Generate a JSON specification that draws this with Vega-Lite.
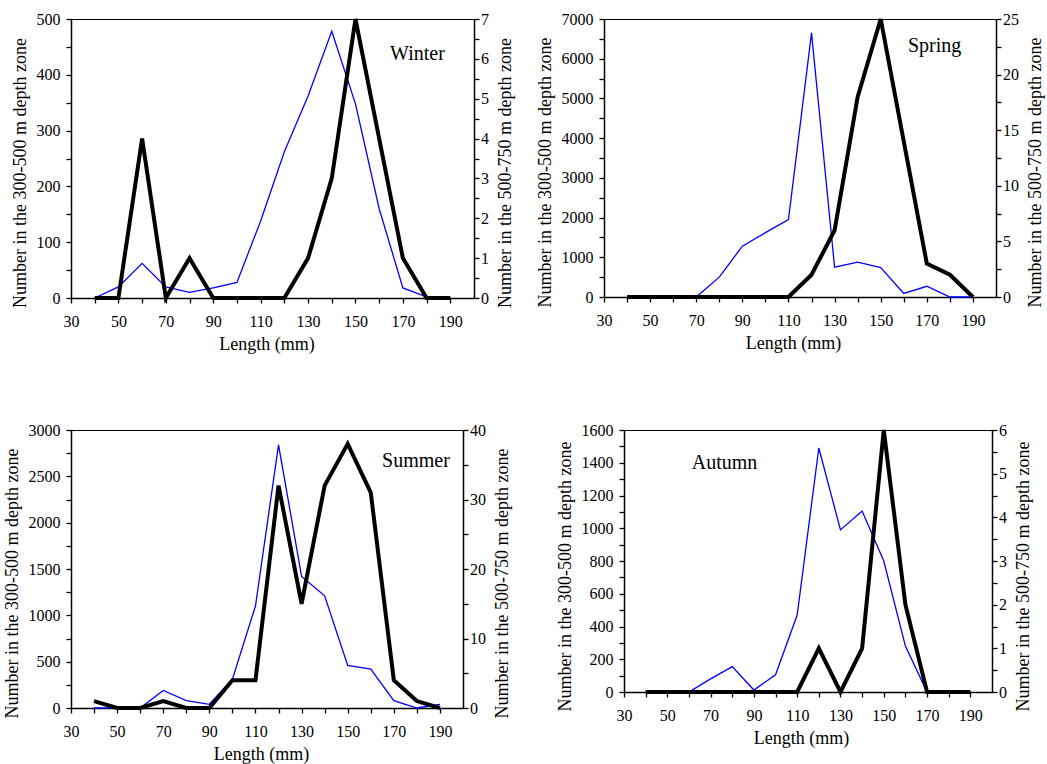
{
  "$schema": "https://vega.github.io/schema/vega-lite/v6.json",
  "background": "white",
  "padding": {"left": 2, "top": 10, "right": 5, "bottom": 5},
  "datasets": {
    "fish": [
      {"season": "Winter", "length": 40, "shallow": 0, "deep": 0},
      {"season": "Winter", "length": 50, "shallow": 20, "deep": 0},
      {"season": "Winter", "length": 60, "shallow": 62, "deep": 4},
      {"season": "Winter", "length": 70, "shallow": 20, "deep": 0},
      {"season": "Winter", "length": 80, "shallow": 10, "deep": 1},
      {"season": "Winter", "length": 90, "shallow": 18, "deep": 0},
      {"season": "Winter", "length": 100, "shallow": 28, "deep": 0},
      {"season": "Winter", "length": 110, "shallow": 138, "deep": 0},
      {"season": "Winter", "length": 120, "shallow": 262, "deep": 0},
      {"season": "Winter", "length": 130, "shallow": 362, "deep": 1},
      {"season": "Winter", "length": 140, "shallow": 478, "deep": 3},
      {"season": "Winter", "length": 150, "shallow": 348, "deep": 7},
      {"season": "Winter", "length": 160, "shallow": 160, "deep": 4},
      {"season": "Winter", "length": 170, "shallow": 18, "deep": 1},
      {"season": "Winter", "length": 180, "shallow": 2, "deep": 0},
      {"season": "Winter", "length": 190, "shallow": 1, "deep": 0},
      {"season": "Spring", "length": 40, "shallow": 0, "deep": 0},
      {"season": "Spring", "length": 50, "shallow": 0, "deep": 0},
      {"season": "Spring", "length": 60, "shallow": 25, "deep": 0},
      {"season": "Spring", "length": 70, "shallow": 0, "deep": 0},
      {"season": "Spring", "length": 80, "shallow": 500, "deep": 0},
      {"season": "Spring", "length": 90, "shallow": 1280, "deep": 0},
      {"season": "Spring", "length": 100, "shallow": 1620, "deep": 0},
      {"season": "Spring", "length": 110, "shallow": 1950, "deep": 0},
      {"season": "Spring", "length": 120, "shallow": 6650, "deep": 2},
      {"season": "Spring", "length": 130, "shallow": 750, "deep": 6},
      {"season": "Spring", "length": 140, "shallow": 880, "deep": 18},
      {"season": "Spring", "length": 150, "shallow": 740, "deep": 25},
      {"season": "Spring", "length": 160, "shallow": 90, "deep": 14},
      {"season": "Spring", "length": 170, "shallow": 270, "deep": 3},
      {"season": "Spring", "length": 180, "shallow": 0, "deep": 2},
      {"season": "Spring", "length": 190, "shallow": 0, "deep": 0},
      {"season": "Summer", "length": 40, "shallow": 0, "deep": 1},
      {"season": "Summer", "length": 50, "shallow": 0, "deep": 0},
      {"season": "Summer", "length": 60, "shallow": 0, "deep": 0},
      {"season": "Summer", "length": 70, "shallow": 190, "deep": 1},
      {"season": "Summer", "length": 80, "shallow": 80, "deep": 0},
      {"season": "Summer", "length": 90, "shallow": 40, "deep": 0},
      {"season": "Summer", "length": 100, "shallow": 310, "deep": 4},
      {"season": "Summer", "length": 110, "shallow": 1100, "deep": 4},
      {"season": "Summer", "length": 120, "shallow": 2840, "deep": 32},
      {"season": "Summer", "length": 130, "shallow": 1420, "deep": 15},
      {"season": "Summer", "length": 140, "shallow": 1210, "deep": 32},
      {"season": "Summer", "length": 150, "shallow": 460, "deep": 38},
      {"season": "Summer", "length": 160, "shallow": 420, "deep": 31},
      {"season": "Summer", "length": 170, "shallow": 80, "deep": 4},
      {"season": "Summer", "length": 180, "shallow": 0, "deep": 1},
      {"season": "Summer", "length": 190, "shallow": 40, "deep": 0},
      {"season": "Autumn", "length": 40, "shallow": 0, "deep": 0},
      {"season": "Autumn", "length": 50, "shallow": 0, "deep": 0},
      {"season": "Autumn", "length": 60, "shallow": 0, "deep": 0},
      {"season": "Autumn", "length": 70, "shallow": 80, "deep": 0},
      {"season": "Autumn", "length": 80, "shallow": 155, "deep": 0},
      {"season": "Autumn", "length": 90, "shallow": 12, "deep": 0},
      {"season": "Autumn", "length": 100, "shallow": 105, "deep": 0},
      {"season": "Autumn", "length": 110, "shallow": 470, "deep": 0},
      {"season": "Autumn", "length": 120, "shallow": 1490, "deep": 1},
      {"season": "Autumn", "length": 130, "shallow": 990, "deep": 0},
      {"season": "Autumn", "length": 140, "shallow": 1105, "deep": 1},
      {"season": "Autumn", "length": 150, "shallow": 800, "deep": 6},
      {"season": "Autumn", "length": 160, "shallow": 280, "deep": 2},
      {"season": "Autumn", "length": 170, "shallow": 0, "deep": 0},
      {"season": "Autumn", "length": 180, "shallow": 0, "deep": 0},
      {"season": "Autumn", "length": 190, "shallow": 0, "deep": 0}
    ]
  },
  "concat": [
    {
      "hconcat": [
        {
          "width": 403, "height": 279,
          "data": {"name": "fish"},
          "transform": [{"filter": "datum.season == 'Winter'"}],
          "layer": [
            {"mark": {"type": "line", "color": "#0000ff", "strokeWidth": 1.3, "strokeJoin": "miter"},
             "encoding": {
               "x": {"field": "length", "type": "quantitative", "scale": {"domain": [30, 200], "nice": false, "zero": false},
                     "axis": {"title": "Length (mm)", "values": [30,40,50,60,70,80,90,100,110,120,130,140,150,160,170,180,190], "labelExpr": "(datum.value - 30) % 20 == 0 ? datum.value : ''", "titleX": 195.5}},
               "y": {"field": "shallow", "type": "quantitative", "scale": {"domain": [0, 500], "nice": false},
                     "axis": {"orient": "left", "title": "Number in the 300-500 m depth zone", "values": [0,50,100,150,200,250,300,350,400,450,500], "labelExpr": "datum.value % 100 == 0 ? datum.value : ''", "titleY": 153.5}}}},
            {"mark": {"type": "line", "color": "black", "strokeWidth": 4, "strokeJoin": "miter"},
             "encoding": {
               "x": {"field": "length", "type": "quantitative", "scale": {"domain": [30, 200], "nice": false, "zero": false},
                     "axis": {"title": "Length (mm)", "values": [30,40,50,60,70,80,90,100,110,120,130,140,150,160,170,180,190], "labelExpr": "(datum.value - 30) % 20 == 0 ? datum.value : ''", "titleX": 195.5}},
               "y": {"field": "deep", "type": "quantitative", "scale": {"domain": [0, 7], "nice": false},
                     "axis": {"orient": "right", "title": "Number in the 500-750 m depth zone", "values": [0,0.5,1,1.5,2,2.5,3,3.5,4,4.5,5,5.5,6,6.5,7], "labelExpr": "datum.value % 1 == 0 ? datum.value : ''", "titleY": 153.5}}}},
            {"data": {"values": [{"label": "Winter"}]},
             "mark": {"type": "text", "font": "Liberation Serif", "fontSize": 20, "align": "left", "baseline": "alphabetic", "color": "black"},
             "encoding": {
               "x": {"datum": 164.6, "type": "quantitative", "scale": {"domain": [30, 200], "nice": false, "zero": false},
                     "axis": {"title": "Length (mm)", "values": [30,40,50,60,70,80,90,100,110,120,130,140,150,160,170,180,190], "labelExpr": "(datum.value - 30) % 20 == 0 ? datum.value : ''", "titleX": 195.5}},
               "y": {"datum": 427, "type": "quantitative", "scale": {"domain": [0, 500], "nice": false}, "axis": null},
               "text": {"field": "label"}}}
          ],
          "resolve": {"scale": {"y": "independent"}}
        },
        {
          "width": 392, "height": 278,
          "data": {"name": "fish"},
          "transform": [{"filter": "datum.season == 'Spring'"}],
          "layer": [
            {"mark": {"type": "line", "color": "#0000ff", "strokeWidth": 1.3, "strokeJoin": "miter"},
             "encoding": {
               "x": {"field": "length", "type": "quantitative", "scale": {"domain": [30, 200], "nice": false, "zero": false},
                     "axis": {"title": "Length (mm)", "values": [30,40,50,60,70,80,90,100,110,120,130,140,150,160,170,180,190], "labelExpr": "(datum.value - 30) % 20 == 0 ? datum.value : ''", "titleX": 189}},
               "y": {"field": "shallow", "type": "quantitative", "scale": {"domain": [0, 7000], "nice": false},
                     "axis": {"orient": "left", "title": "Number in the 300-500 m depth zone", "values": [0,500,1000,1500,2000,2500,3000,3500,4000,4500,5000,5500,6000,6500,7000], "labelExpr": "datum.value % 1000 == 0 ? datum.value : ''", "titleY": 153}}}},
            {"mark": {"type": "line", "color": "black", "strokeWidth": 4, "strokeJoin": "miter"},
             "encoding": {
               "x": {"field": "length", "type": "quantitative", "scale": {"domain": [30, 200], "nice": false, "zero": false},
                     "axis": {"title": "Length (mm)", "values": [30,40,50,60,70,80,90,100,110,120,130,140,150,160,170,180,190], "labelExpr": "(datum.value - 30) % 20 == 0 ? datum.value : ''", "titleX": 189}},
               "y": {"field": "deep", "type": "quantitative", "scale": {"domain": [0, 25], "nice": false},
                     "axis": {"orient": "right", "title": "Number in the 500-750 m depth zone", "values": [0,2.5,5,7.5,10,12.5,15,17.5,20,22.5,25], "labelExpr": "datum.value % 5 == 0 ? datum.value : ''", "titleY": 153}}}},
            {"data": {"values": [{"label": "Spring"}]},
             "mark": {"type": "text", "font": "Liberation Serif", "fontSize": 20, "align": "left", "baseline": "alphabetic", "color": "black"},
             "encoding": {
               "x": {"datum": 161.8, "type": "quantitative", "scale": {"domain": [30, 200], "nice": false, "zero": false},
                     "axis": {"title": "Length (mm)", "values": [30,40,50,60,70,80,90,100,110,120,130,140,150,160,170,180,190], "labelExpr": "(datum.value - 30) % 20 == 0 ? datum.value : ''", "titleX": 189}},
               "y": {"datum": 6163, "type": "quantitative", "scale": {"domain": [0, 7000], "nice": false}, "axis": null},
               "text": {"field": "label"}}}
          ],
          "resolve": {"scale": {"y": "independent"}}
        }
      ],
      "spacing": 20
    },
    {
      "hconcat": [
        {
          "width": 392, "height": 278,
          "data": {"name": "fish"},
          "transform": [{"filter": "datum.season == 'Summer'"}],
          "layer": [
            {"mark": {"type": "line", "color": "#0000ff", "strokeWidth": 1.3, "strokeJoin": "miter"},
             "encoding": {
               "x": {"field": "length", "type": "quantitative", "scale": {"domain": [30, 200], "nice": false, "zero": false},
                     "axis": {"title": "Length (mm)", "values": [30,40,50,60,70,80,90,100,110,120,130,140,150,160,170,180,190], "labelExpr": "(datum.value - 30) % 20 == 0 ? datum.value : ''", "titleX": 190}},
               "y": {"field": "shallow", "type": "quantitative", "scale": {"domain": [0, 3000], "nice": false},
                     "axis": {"orient": "left", "title": "Number in the 300-500 m depth zone", "values": [0,250,500,750,1000,1250,1500,1750,2000,2250,2500,2750,3000], "labelExpr": "datum.value % 500 == 0 ? datum.value : ''", "titleY": 153}}}},
            {"mark": {"type": "line", "color": "black", "strokeWidth": 4, "strokeJoin": "miter"},
             "encoding": {
               "x": {"field": "length", "type": "quantitative", "scale": {"domain": [30, 200], "nice": false, "zero": false},
                     "axis": {"title": "Length (mm)", "values": [30,40,50,60,70,80,90,100,110,120,130,140,150,160,170,180,190], "labelExpr": "(datum.value - 30) % 20 == 0 ? datum.value : ''", "titleX": 190}},
               "y": {"field": "deep", "type": "quantitative", "scale": {"domain": [0, 40], "nice": false},
                     "axis": {"orient": "right", "title": "Number in the 500-750 m depth zone", "values": [0,5,10,15,20,25,30,35,40], "labelExpr": "datum.value % 10 == 0 ? datum.value : ''", "titleY": 153}}}},
            {"data": {"values": [{"label": "Summer"}]},
             "mark": {"type": "text", "font": "Liberation Serif", "fontSize": 20, "align": "left", "baseline": "alphabetic", "color": "black"},
             "encoding": {
               "x": {"datum": 164.9, "type": "quantitative", "scale": {"domain": [30, 200], "nice": false, "zero": false},
                     "axis": {"title": "Length (mm)", "values": [30,40,50,60,70,80,90,100,110,120,130,140,150,160,170,180,190], "labelExpr": "(datum.value - 30) % 20 == 0 ? datum.value : ''", "titleX": 190}},
               "y": {"datum": 2597, "type": "quantitative", "scale": {"domain": [0, 3000], "nice": false}, "axis": null},
               "text": {"field": "label"}}}
          ],
          "resolve": {"scale": {"y": "independent"}}
        },
        {
          "width": 368, "height": 262,
          "data": {"name": "fish"},
          "transform": [{"filter": "datum.season == 'Autumn'"}],
          "layer": [
            {"mark": {"type": "line", "color": "#0000ff", "strokeWidth": 1.3, "strokeJoin": "miter"},
             "encoding": {
               "x": {"field": "length", "type": "quantitative", "scale": {"domain": [30, 200], "nice": false, "zero": false},
                     "axis": {"title": "Length (mm)", "values": [30,40,50,60,70,80,90,100,110,120,130,140,150,160,170,180,190], "labelExpr": "(datum.value - 30) % 20 == 0 ? datum.value : ''", "titleX": 177}},
               "y": {"field": "shallow", "type": "quantitative", "scale": {"domain": [0, 1600], "nice": false},
                     "axis": {"orient": "left", "title": "Number in the 300-500 m depth zone", "values": [0,100,200,300,400,500,600,700,800,900,1000,1100,1200,1300,1400,1500,1600], "labelExpr": "datum.value % 200 == 0 ? datum.value : ''", "titleY": 146}}}},
            {"mark": {"type": "line", "color": "black", "strokeWidth": 4, "strokeJoin": "miter"},
             "encoding": {
               "x": {"field": "length", "type": "quantitative", "scale": {"domain": [30, 200], "nice": false, "zero": false},
                     "axis": {"title": "Length (mm)", "values": [30,40,50,60,70,80,90,100,110,120,130,140,150,160,170,180,190], "labelExpr": "(datum.value - 30) % 20 == 0 ? datum.value : ''", "titleX": 177}},
               "y": {"field": "deep", "type": "quantitative", "scale": {"domain": [0, 6], "nice": false},
                     "axis": {"orient": "right", "title": "Number in the 500-750 m depth zone", "values": [0,0.5,1,1.5,2,2.5,3,3.5,4,4.5,5,5.5,6], "labelExpr": "datum.value % 1 == 0 ? datum.value : ''", "titleY": 146}}}},
            {"data": {"values": [{"label": "Autumn"}]},
             "mark": {"type": "text", "font": "Liberation Serif", "fontSize": 20, "align": "left", "baseline": "alphabetic", "color": "black"},
             "encoding": {
               "x": {"datum": 61.3, "type": "quantitative", "scale": {"domain": [30, 200], "nice": false, "zero": false},
                     "axis": {"title": "Length (mm)", "values": [30,40,50,60,70,80,90,100,110,120,130,140,150,160,170,180,190], "labelExpr": "(datum.value - 30) % 20 == 0 ? datum.value : ''", "titleX": 177}},
               "y": {"datum": 1360, "type": "quantitative", "scale": {"domain": [0, 1600], "nice": false}, "axis": null},
               "text": {"field": "label"}}}
          ],
          "resolve": {"scale": {"y": "independent"}}
        }
      ],
      "spacing": 43
    }
  ],
  "columns": 1,
  "align": "none",
  "spacing": 67,
  "config": {
    "view": {"stroke": "black", "strokeWidth": 1},
    "axis": {
      "labelFont": "Liberation Serif", "titleFont": "Liberation Serif",
      "labelFontSize": 16, "titleFontSize": 18, "titleFontWeight": "normal",
      "labelColor": "black", "titleColor": "black",
      "domain": true, "domainColor": "black", "domainWidth": 1.5, "tickColor": "black", "tickWidth": 1.3, "tickSize": 5, "tickOpacity": 1,
      "ticks": true, "grid": false, "labelFlush": false, "labelOverlap": false
    },
    "axisLeft": {"labelPadding": 6, "titlePadding": 7},
    "axisRight": {"labelPadding": 1.5, "titlePadding": 8, "titleAngle": 270, "titleBaseline": "top"},
    "axisBottom": {"labelPadding": 10, "titlePadding": 6}
  }
}
